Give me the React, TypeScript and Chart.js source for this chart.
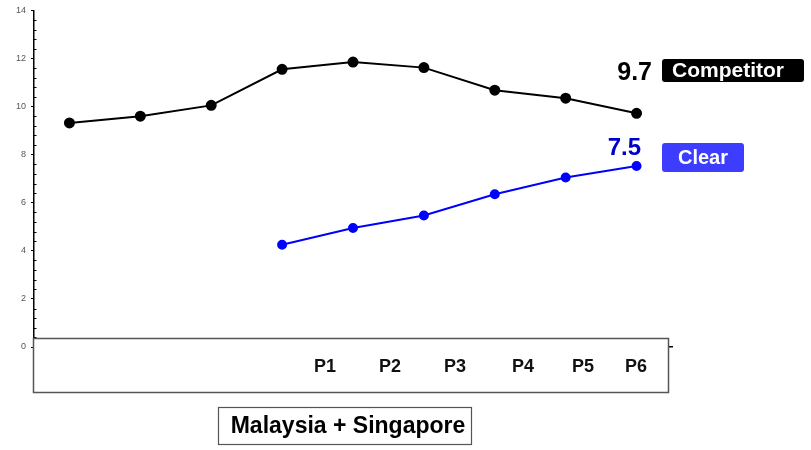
import React, { useEffect, useRef } from 'react';
import { Chart, registerables } from 'chart.js';

Chart.register(...registerables);

const categories = ['1', '2', '3', '4', '5', '6', '7', '8', '9'];
const competitorValues = [9.32, 9.6, 10.05, 11.55, 11.85, 11.62, 10.68, 10.35, 9.72];
const clearValues: (number | null)[] = [null, null, null, 4.25, 4.95, 5.47, 6.35, 7.05, 7.53];
const periodLabels = ['P1', 'P2', 'P3', 'P4', 'P5', 'P6'];
const yTicks = [0, 2, 4, 6, 8, 10, 12, 14];
const seriesNames = ['Competitor', 'Clear'];
const regionLabel = 'Malaysia + Singapore';

const FONT = '"Liberation Sans", Arial, Helvetica, sans-serif';

function roundRect(ctx: CanvasRenderingContext2D, x: number, y: number, w: number, h: number, r: number) {
  ctx.beginPath();
  ctx.moveTo(x + r, y);
  ctx.lineTo(x + w - r, y);
  ctx.quadraticCurveTo(x + w, y, x + w, y + r);
  ctx.lineTo(x + w, y + h - r);
  ctx.quadraticCurveTo(x + w, y + h, x + w - r, y + h);
  ctx.lineTo(x + r, y + h);
  ctx.quadraticCurveTo(x, y + h, x, y + h - r);
  ctx.lineTo(x, y + r);
  ctx.quadraticCurveTo(x, y, x + r, y);
  ctx.closePath();
}

const overlayPlugin = {
  id: 'overlay',
  afterDraw(chart: any) {
    const ctx: CanvasRenderingContext2D = chart.ctx;
    const yScale = chart.scales.y;
    const area = chart.chartArea;
    ctx.save();

    // minor ticks on the y axis
    ctx.strokeStyle = '#000';
    ctx.lineWidth = 1;
    for (let i = 0; i <= 35; i++) {
      const v = i * 0.4;
      if (Math.abs(v / 2 - Math.round(v / 2)) < 0.01) continue;
      const py = Math.round(yScale.getPixelForValue(v)) + 0.5;
      ctx.beginPath();
      ctx.moveTo(area.left, py);
      ctx.lineTo(area.left + 2.5, py);
      ctx.stroke();
    }

    // period label box over the x axis
    ctx.fillStyle = '#fff';
    ctx.fillRect(33.5, 338.5, 635, 54);
    ctx.strokeStyle = '#555';
    ctx.lineWidth = 1.5;
    ctx.strokeRect(33.5, 338.5, 635, 54);

    const periodX = [325, 390, 455, 523, 583, 636];
    ctx.fillStyle = '#111';
    ctx.font = `bold 18px ${FONT}`;
    ctx.textAlign = 'center';
    ctx.textBaseline = 'middle';
    periodLabels.forEach((p, i) => ctx.fillText(p, periodX[i], 367));

    // region label
    ctx.fillStyle = '#fff';
    ctx.fillRect(218.5, 407.5, 253, 37);
    ctx.strokeStyle = '#555';
    ctx.lineWidth = 1.2;
    ctx.strokeRect(218.5, 407.5, 253, 37);
    ctx.fillStyle = '#000';
    ctx.font = `bold 23px ${FONT}`;
    ctx.fillText(regionLabel, 348, 427);

    // last values
    const lastComp = competitorValues[competitorValues.length - 1];
    const lastClear = clearValues[clearValues.length - 1] as number;
    ctx.textAlign = 'right';
    ctx.font = `bold 25px ${FONT}`;
    ctx.fillStyle = '#000';
    ctx.fillText(lastComp.toFixed(1), 652, 73);
    ctx.font = `bold 24px ${FONT}`;
    ctx.fillStyle = '#0000cc';
    ctx.fillText(lastClear.toFixed(1), 641, 148);

    // series tags
    ctx.fillStyle = '#000';
    roundRect(ctx, 662, 59, 142, 23, 3);
    ctx.fill();
    ctx.fillStyle = '#3d3dff';
    roundRect(ctx, 662, 143, 82, 29, 3);
    ctx.fill();
    ctx.fillStyle = '#fff';
    ctx.textAlign = 'center';
    ctx.font = `bold 21px ${FONT}`;
    ctx.fillText(seriesNames[0], 728, 71.5);
    ctx.font = `bold 20px ${FONT}`;
    ctx.fillText(seriesNames[1], 703, 158.5);

    ctx.restore();
  },
};

export default function App() {
  const canvasRef = useRef<HTMLCanvasElement | null>(null);

  useEffect(() => {
    if (!canvasRef.current) return;
    const chart = new Chart(canvasRef.current, {
      type: 'line',
      data: {
        labels: categories,
        datasets: [
          {
            label: seriesNames[0],
            data: competitorValues,
            borderColor: '#000',
            backgroundColor: '#000',
            pointBackgroundColor: '#000',
            pointBorderColor: '#000',
            borderWidth: 2,
            pointRadius: 4.5,
            tension: 0,
          },
          {
            label: seriesNames[1],
            data: clearValues,
            borderColor: '#0000ff',
            backgroundColor: '#0000ff',
            pointBackgroundColor: '#0000ff',
            pointBorderColor: '#0000ff',
            borderWidth: 2,
            pointRadius: 4,
            tension: 0,
            spanGaps: false,
          },
        ],
      },
      options: {
        animation: false,
        responsive: false,
        layout: { padding: { top: 9, right: 139, left: 0, bottom: 0 } },
        plugins: { legend: { display: false }, tooltip: { enabled: false } },
        scales: {
          x: {
            offset: true,
            ticks: { display: false },
            grid: { display: false },
            border: { display: true, color: '#000', width: 1.5 },
            afterFit: (s: any) => {
              s.height = 103;
            },
          },
          y: {
            min: 0,
            max: 14,
            afterBuildTicks: (s: any) => {
              s.ticks = yTicks.map((v) => ({ value: v }));
            },
            ticks: { font: { size: 9, family: FONT }, color: '#555', padding: 5 },
            grid: { drawOnChartArea: false, drawTicks: true, tickLength: 3, color: '#000' },
            border: { color: '#000', width: 1.5 },
            afterFit: (s: any) => {
              s.width = 34;
            },
          },
        },
      },
      plugins: [overlayPlugin],
    });
    return () => chart.destroy();
  }, []);

  return (
    <div style={{ position: 'fixed', left: 0, top: 0, width: 811, height: 450, background: '#fff' }}>
      <canvas ref={canvasRef} width={811} height={450} style={{ display: 'block' }} />
    </div>
  );
}
